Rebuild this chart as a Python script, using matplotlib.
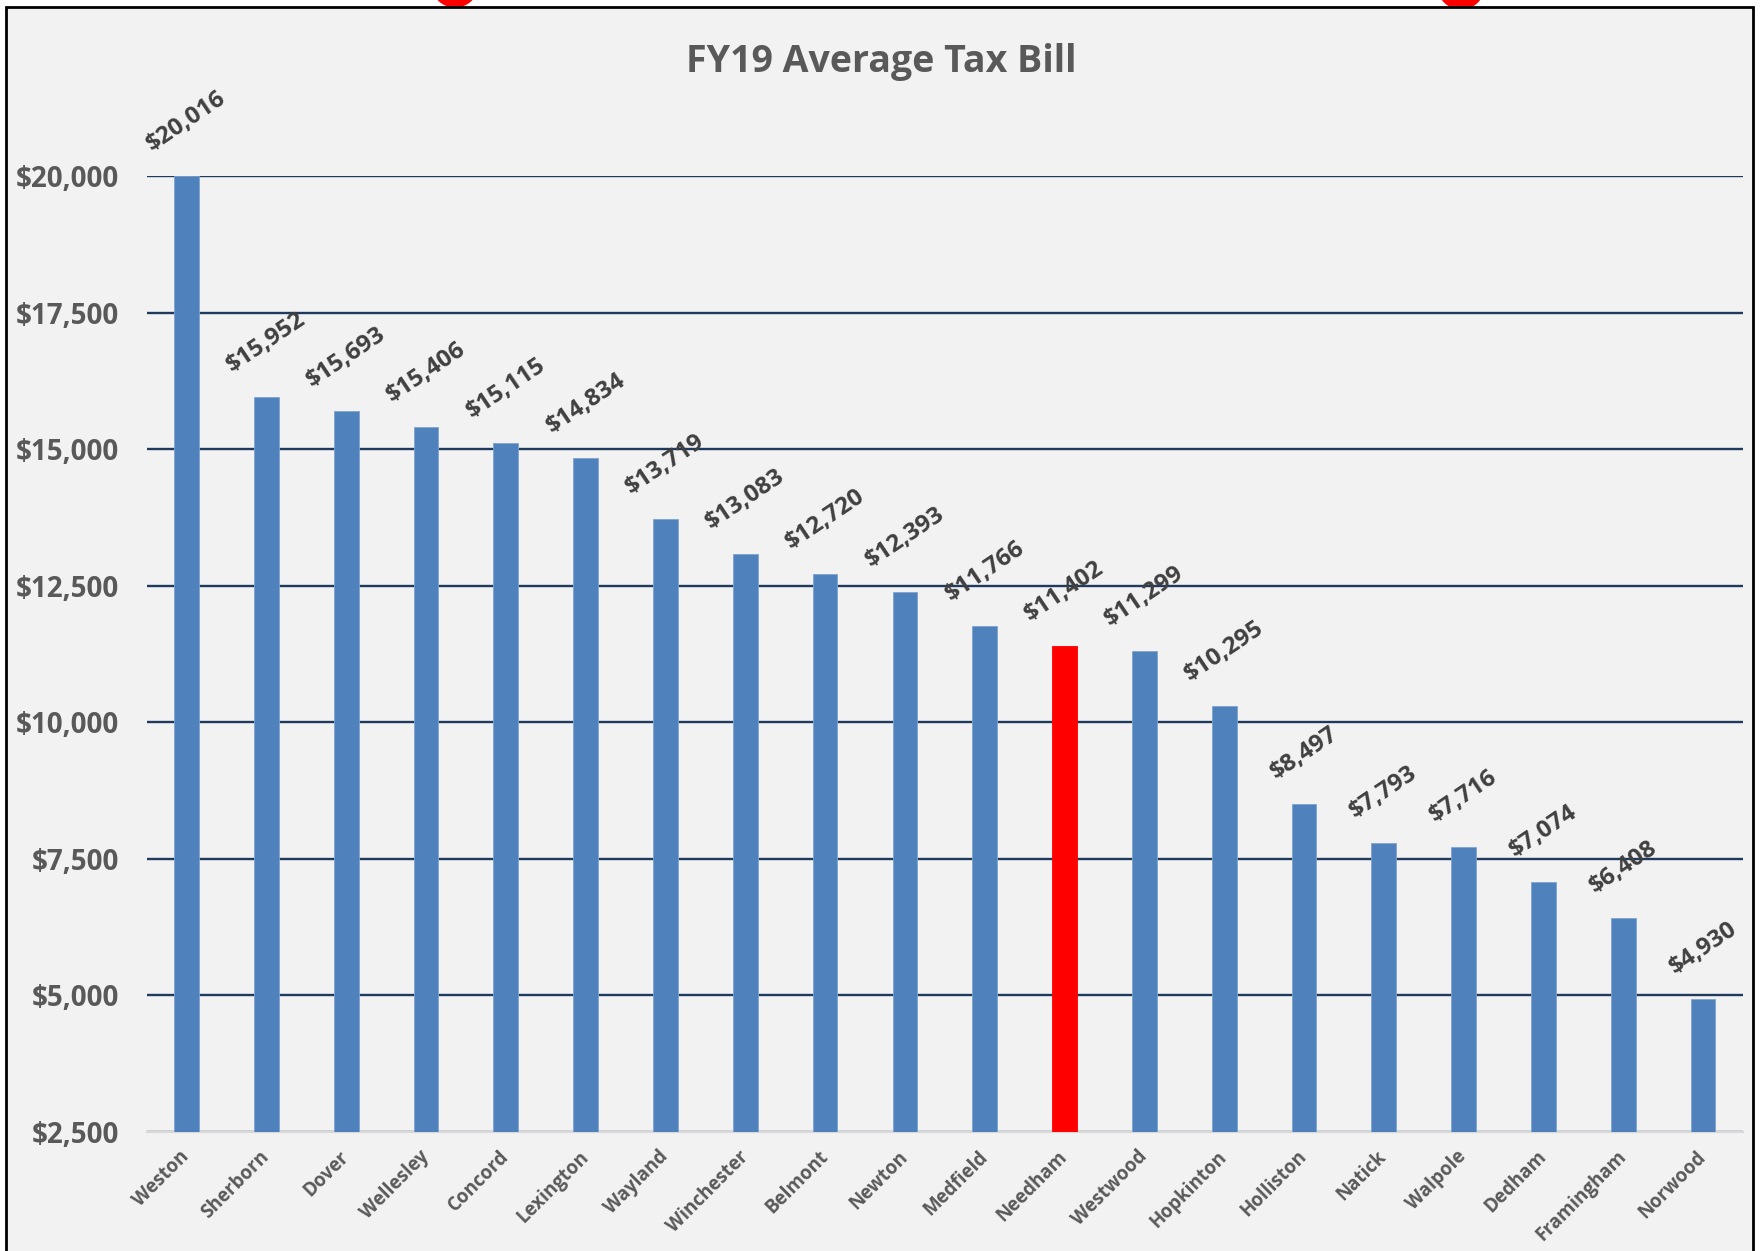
import matplotlib.pyplot as plt
from matplotlib.patches import Rectangle, Ellipse
from matplotlib.ticker import FuncFormatter
import numpy as np

plt.rcParams['font.family'] = ['Open Sans', 'DejaVu Sans']

towns = ['Weston', 'Sherborn', 'Dover', 'Wellesley', 'Concord', 'Lexington',
         'Wayland', 'Winchester', 'Belmont', 'Newton', 'Medfield', 'Needham',
         'Westwood', 'Hopkinton', 'Holliston', 'Natick', 'Walpole', 'Dedham',
         'Framingham', 'Norwood']
tax_bill = [20016, 15952, 15693, 15406, 15115, 14834, 13719, 13083, 12720,
            12393, 11766, 11402, 11299, 10295, 8497, 7793, 7716, 7074, 6408, 4930]
highlight = 'Needham'
y_ticks = [2500, 5000, 7500, 10000, 12500, 15000, 17500, 20000]

W, H = 1762, 1251
fig = plt.figure(figsize=(W / 100, H / 100), dpi=100, facecolor='white')

# chart frame (grey panel with black border, cut at the bottom)
fig.patches.append(Ellipse((455 / W, 1 + 16 / H), 46 / W, 46 / H,
                           transform=fig.transFigure, color='#FF0000', zorder=0))
fig.patches.append(Ellipse((1461 / W, 1 + 14 / H), 46 / W, 46 / H,
                           transform=fig.transFigure, color='#FF0000', zorder=0))
fig.patches.append(Rectangle((6 / W, -0.05), (1753 - 6) / W, 1.05 - 7 / H,
                             transform=fig.transFigure, facecolor='#F2F2F2',
                             edgecolor='black', linewidth=2, zorder=1))

ax = fig.add_axes([146.6 / W, 1 - 1131.6 / H, (1743 - 146.6) / W, (1131.6 - 176.4) / H])
ax.set_facecolor('none')
ax.set_zorder(2)

x = np.arange(len(towns))
colors = ['#FF0000' if t == highlight else '#4F81BD' for t in towns]
bars = ax.bar(x, tax_bill, width=0.31, color=colors, edgecolor='#7FA4D2',
              linewidth=0.6, zorder=3)
for b, t in zip(bars, towns):
    if t == highlight:
        b.set_edgecolor('#FF0000')

for xi, v in zip(x, tax_bill):
    ax.annotate('${:,}'.format(v), (xi, min(v, 20000)), xytext=(0, 14),
                textcoords='offset points', ha='center', va='bottom',
                rotation=34, fontsize=17.5, fontweight='bold', color='#404040',
                annotation_clip=False)

ax.set_xlim(-0.5, len(towns) - 0.5)
ax.set_ylim(2500, 20000)
ax.set_yticks(y_ticks)
ax.yaxis.set_major_formatter(FuncFormatter(lambda v, p: '${:,.0f}'.format(v)))
ax.grid(axis='y', color='#1F3A5F', linewidth=1.7, zorder=1)
ax.set_axisbelow(True)

ax.set_xticks(x)
ax.set_xticklabels(towns, rotation=45, ha='right', va='center',
                   rotation_mode='anchor', fontsize=13.5, fontweight='bold',
                   color='#595959')
ax.tick_params(axis='x', length=0, pad=16)
ax.tick_params(axis='y', length=0, pad=20, labelsize=20, labelcolor='#595959')
for lbl in ax.get_yticklabels():
    lbl.set_fontweight('bold')

for s in ['top', 'right', 'left']:
    ax.spines[s].set_visible(False)
ax.spines['bottom'].set_color('#D9D9D9')
ax.spines['bottom'].set_linewidth(1.6)

fig.text(0.5, 1 - 62 / H, 'FY19 Average Tax Bill', ha='center', va='center',
         fontsize=27, fontweight='bold', color='#595959')

fig.savefig('out.png', dpi=100, facecolor='white')
